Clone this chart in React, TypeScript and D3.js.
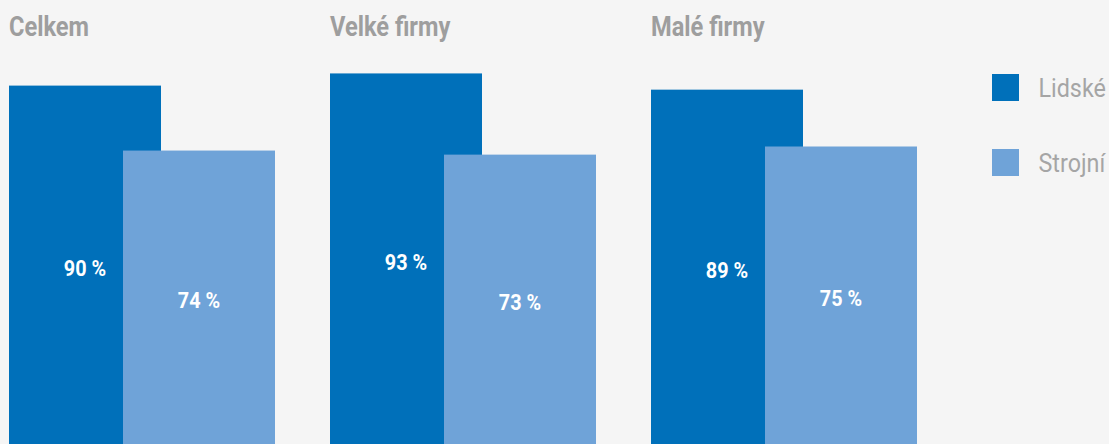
import React from 'react';
import * as d3 from 'd3';

const groups = ['Celkem', 'Velké firmy', 'Malé firmy'];
const series = ['Lidské', 'Strojní'];
const lidske = [90, 93, 89];
const strojni = [74, 73, 75];

const W = 1109;
const H = 444;
const colors = ['#0070ba', '#6fa3d8'];
const gray = '#9e9e9e';

// no Roboto Condensed offline, so squeeze Roboto a bit
const Cond = ({ x, y, anchor = 'start', sx = 0.87, children, ...rest }) => (
  <text transform={`translate(${x},${y}) scale(${sx},1)`} textAnchor={anchor} fontFamily="Roboto" {...rest}>
    {children}
  </text>
);

const App = () => {
  const x = d3.scaleBand().domain(groups).range([9, 972]).padding(0);
  const y = d3.scaleLinear().domain([0, 100]).range([451, 45]);
  const barW = 152;
  const offset = 114;

  const values = [lidske, strojni];

  return (
    <svg width={W} height={H} style={{ position: 'absolute', left: 0, top: 0 }}>
      <rect width={W} height={H} fill="#f5f5f5" />
      {groups.map((g, gi) => {
        const x0 = x(g);
        return (
          <g key={g}>
            <Cond x={x0} y={36} fill={gray} fontWeight="bold" fontSize={27} sx={0.875}>
              {g}
            </Cond>
            {values.map((vals, si) => {
              const bx = x0 + si * offset;
              const top = y(vals[gi]);
              const mid = (top + y(0)) / 2;
              return (
                <g key={si}>
                  <rect x={bx} y={top} width={barW} height={y(0) - top} fill={colors[si]} />
                  <Cond
                    x={bx + barW / 2}
                    y={mid + 7.5}
                    anchor="middle"
                    fill="#fff"
                    fontWeight="bold"
                    fontSize={22.5}
                    sx={0.88}
                  >
                    {vals[gi]} %
                  </Cond>
                </g>
              );
            })}
          </g>
        );
      })}
      {series.map((s, si) => (
        <g key={s} transform={`translate(992,${74 + si * 75})`}>
          <rect width={27} height={27} fill={colors[si]} />
          <Cond x={46.5} y={23} fill="#a5a5a5" fontSize={26.5} sx={0.88}>
            {s}
          </Cond>
        </g>
      ))}
    </svg>
  );
};

export default App;
